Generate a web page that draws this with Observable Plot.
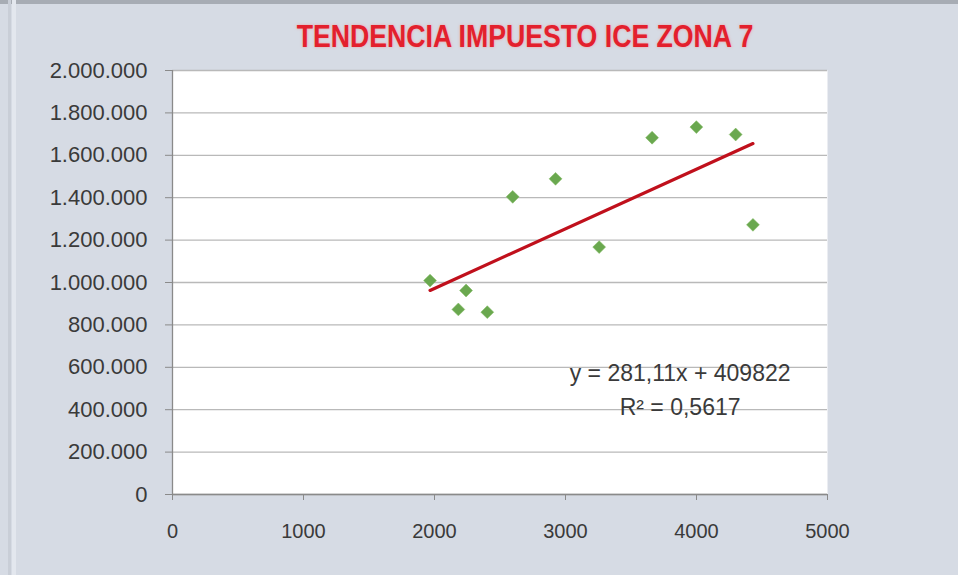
<!DOCTYPE html>
<html>
<head>
<meta charset="utf-8">
<script src="https://cdn.jsdelivr.net/npm/d3@7"></script>
<script src="https://cdn.jsdelivr.net/npm/@observablehq/plot@0.6"></script>
<style>
  html, body { margin: 0; padding: 0; background: #d6dbe4; }
  #chart { position: relative; width: 958px; height: 575px; background: #d6dbe4; overflow: hidden; }
  #topline { position: absolute; left: 0; top: 0; width: 958px; height: 4px; background: #a7acb4; }
  #edge { position: absolute; left: 8px; top: 0; width: 3px; height: 575px; background: #c9ced7; }
  #edge2 { position: absolute; left: 12px; top: 0; width: 4px; height: 575px; background: #e3e7ee; }
  #title { position: absolute; left: 0; width: 1050px; top: 19px; text-align: center;
           font-family: "Liberation Sans", sans-serif; font-weight: bold;
           font-size: 31px; color: #e3202d; text-shadow: 0 0 3px rgba(255,120,120,0.6);
           transform: scaleX(0.86); transform-origin: 525px 0; }
  #plot { position: absolute; left: 0; top: 0; }
</style>
</head>
<body>
<div id="chart">
  <div id="topline"></div><div id="edge"></div><div id="edge2"></div>
  <div id="plot"></div>
  <div id="title"></div>
</div>
<script>
// Data
const zoneX = [1966, 2241, 2182, 2403, 2597, 2924, 3257, 3661, 3999, 4299, 4431];
const impuesto = [1009000, 962000, 873000, 860000, 1404000, 1489000, 1167000, 1683000, 1733000, 1698000, 1272000];
const xTicks = [0, 1000, 2000, 3000, 4000, 5000];
const yTicks = [0, 200000, 400000, 600000, 800000, 1000000, 1200000, 1400000, 1600000, 1800000, 2000000];
const trendSlope = 281.11;
const trendIntercept = 409822;
const rSquared = 0.5617;
const titleText = "TENDENCIA IMPUESTO ICE ZONA 7";
document.getElementById("title").textContent = titleText;

const points = zoneX.map((x, i) => ({x, y: impuesto[i]}));
const [xMin, xMax] = d3.extent(zoneX);
const trend = [xMin, xMax].map(x => ({x, y: trendSlope * x + trendIntercept}));

const es = d3.formatLocale({decimal: ",", thousands: ".", grouping: [3], currency: ["", ""]});
const yFmt = es.format(",");
const eqText = `y = ${es.format(",.2f")(trendSlope)}x + ${trendIntercept}`;
const r2Text = `R² = ${es.format(".4f")(rSquared)}`;
const labels = [
  {x: 3875, y: 570000, text: eqText},
  {x: 3875, y: 408000, text: r2Text}
];

const font = "Liberation Sans, sans-serif";
const chart = Plot.plot({
  width: 958,
  height: 575,
  marginLeft: 172,
  marginRight: 131,
  marginTop: 70,
  marginBottom: 81,
  style: {background: "transparent", fontFamily: font, color: "#3a3a3a", overflow: "visible"},
  x: {domain: [0, 5000]},
  y: {domain: [0, 2000000]},
  marks: [
    Plot.frame({fill: "white", stroke: null}),
    Plot.gridY(yTicks, {stroke: "#b9b9b9", strokeOpacity: 1, strokeWidth: 1.3}),
    Plot.ruleX([0], {stroke: "#8a8a8a", strokeWidth: 1.3}),
    Plot.ruleY([0], {stroke: "#8a8a8a", strokeWidth: 1.3}),
    Plot.axisY(yTicks, {tickFormat: yFmt, tickSize: 7, tickPadding: 18, fontSize: 22, stroke: "#8a8a8a", fill: "#3a3a3a", label: null}),
    Plot.axisX(xTicks, {tickFormat: d3.format("d"), tickSize: 6, tickPadding: 23, fontSize: 20, stroke: "#8a8a8a", fill: "#3a3a3a", label: null}),
    Plot.dot(points, {x: "x", y: "y", symbol: "diamond2", r: 5.8, fill: "#6aa84f", stroke: "#7fb85e", strokeWidth: 0.5}),
    Plot.line(trend, {x: "x", y: "y", stroke: "#c0101c", strokeWidth: 3.2}),
    Plot.text(labels, {x: "x", y: "y", text: "text", fontSize: 23, fill: "#3a3a3a", textAnchor: "middle"})
  ]
});
document.getElementById("plot").appendChild(chart);
</script>
</body>
</html>
